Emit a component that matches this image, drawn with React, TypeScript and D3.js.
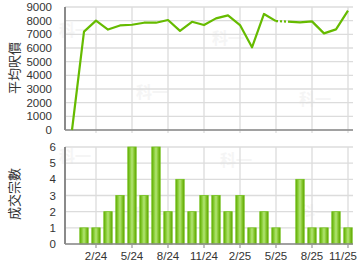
import React from "react";
import * as d3 from "d3";

const months = ["12/23","1/24","2/24","3/24","4/24","5/24","6/24","7/24","8/24","9/24","10/24","11/24","12/24","1/25","2/25","3/25","4/25","5/25","6/25","7/25","8/25","9/25","10/25","11/25"];
const avgPrice: (number | null)[] = [0,7200,8000,7350,7650,7700,7850,7850,8050,7250,7920,7680,8170,8390,7680,6050,8490,7970,7930,7880,7950,7070,7360,8730];
const dealCount = [0,1,1,2,3,6,3,6,2,4,2,3,3,2,3,1,2,1,0,4,1,1,2,1];
const xTickLabels = ["2/24","5/24","8/24","11/24","2/25","5/25","8/25","11/25"];
const priceTicks = [0,1000,2000,3000,4000,5000,6000,7000,8000,9000];
const countTicks = [0,1,2,3,4,5,6];
const dashedFrom = "5/25";
const dashedTo = "6/25";

const W = 360, H = 270;
const left = 65, right = 353;
const font = "'Liberation Sans', Arial, 'DejaVu Sans', sans-serif";
const cjk = "'Noto Sans CJK TC', 'Noto Sans CJK SC', sans-serif";

export default function App() {
  const x = d3.scaleBand<string>().domain(months).range([66, 354]).paddingInner(0.3).paddingOuter(0.15);
  const cx = (m: string) => (x(m) as number) + x.bandwidth() / 2;
  const yP = d3.scaleLinear().domain([0, 9000]).range([130, 7]);
  const yC = d3.scaleLinear().domain([0, 6]).range([244, 147]);

  const pts = months.map((m, i) => ({ m, v: avgPrice[i] }));
  const di = months.indexOf(dashedFrom), dj = months.indexOf(dashedTo);
  const line = d3.line<{ m: string; v: number | null }>().defined(d => d.v != null).x(d => cx(d.m)).y(d => yP(d.v as number));
  const solid1 = pts.slice(0, di + 1);
  const dashed = pts.slice(di, dj + 1);
  const solid2 = pts.slice(dj);

  const gridColor = "#dcdcdc";
  const axisColor = "#8a8a8a";

  const watermarks = [
    [75, 36], [152, 98], [228, 44], [315, 105],
    [75, 162], [236, 166], [150, 220], [315, 218],
  ];

  return (
    <svg width={W} height={H} style={{ position: "absolute", left: 0, top: 0, background: "#fff" }}>
      <defs>
        <linearGradient id="barG" x1="0" x2="1" y1="0" y2="0">
          <stop offset="0%" stopColor="#5da800" />
          <stop offset="30%" stopColor="#8fd23e" />
          <stop offset="50%" stopColor="#b2e475" />
          <stop offset="75%" stopColor="#86c82e" />
          <stop offset="100%" stopColor="#5a9f00" />
        </linearGradient>
      </defs>
      {watermarks.map(([wx, wy], i) => (
        <text key={i} x={wx} y={wy} textAnchor="middle" fontFamily={cjk} fontWeight="bold" fontSize={16} fill="#f5f5f5">科一</text>
      ))}
      {priceTicks.map(t => (
        <line key={"hp" + t} x1={left} x2={right} y1={yP(t)} y2={yP(t)} stroke={gridColor} strokeWidth={1.3} />
      ))}
      {xTickLabels.map(m => (
        <line key={"vp" + m} x1={cx(m)} x2={cx(m)} y1={yP(9000)} y2={yP(0) + 3} stroke={gridColor} strokeWidth={1.3} />
      ))}
      <line x1={left} x2={right} y1={yP(0)} y2={yP(0)} stroke={axisColor} strokeWidth={1.5} />
      <line x1={left} x2={left} y1={yP(9000)} y2={yP(0)} stroke={axisColor} strokeWidth={2} />
      {priceTicks.map(t => (
        <text key={"lp" + t} x={52} y={yP(t) + 4} textAnchor="end" fontFamily={font} fontSize={11.5} fill="#333">{t}</text>
      ))}
      <path d={line(solid1) || ""} fill="none" stroke="#66bb00" strokeWidth={2.2} strokeLinejoin="round" />
      <path d={line(dashed) || ""} fill="none" stroke="#66bb00" strokeWidth={2.2} strokeDasharray="2,2" />
      <path d={line(solid2) || ""} fill="none" stroke="#66bb00" strokeWidth={2.2} strokeLinejoin="round" />
      <text transform={`translate(19,68) rotate(-90)`} textAnchor="middle" fontFamily={cjk} fontSize={13} fill="#333">平均呎價</text>

      {countTicks.map(t => (
        <line key={"hc" + t} x1={left} x2={right} y1={yC(t)} y2={yC(t)} stroke={gridColor} strokeWidth={1.3} />
      ))}
      {xTickLabels.map(m => (
        <line key={"vc" + m} x1={cx(m)} x2={cx(m)} y1={yC(6)} y2={yC(0) + 4} stroke={gridColor} strokeWidth={1.3} />
      ))}
      {months.map((m, i) => dealCount[i] > 0 ? (
        <rect key={"b" + m} x={x(m) as number} y={yC(dealCount[i])} width={x.bandwidth()} height={yC(0) - yC(dealCount[i])}
          fill="url(#barG)" stroke="#74c21c" strokeWidth={0.8} />
      ) : null)}
      <line x1={left} x2={right} y1={yC(0)} y2={yC(0)} stroke={axisColor} strokeWidth={1.5} />
      <line x1={left} x2={left} y1={yC(6)} y2={yC(0)} stroke={axisColor} strokeWidth={2} />
      {xTickLabels.map(m => (
        <line key={"tc" + m} x1={cx(m)} x2={cx(m)} y1={yC(0)} y2={yC(0) + 4} stroke="#999" strokeWidth={1} />
      ))}
      {countTicks.map(t => (
        <text key={"lc" + t} x={56} y={yC(t) + 4} textAnchor="end" fontFamily={font} fontSize={11.5} fill="#333">{t}</text>
      ))}
      {xTickLabels.map((m, i) => {
        const last = i === xTickLabels.length - 1;
        return (
          <text key={"lx" + m} x={last ? 357 : cx(m)} y={260} textAnchor={last ? "end" : "middle"} fontFamily={font} fontSize={11.5} fill="#333">{m}</text>
        );
      })}
      <text transform={`translate(19,194) rotate(-90)`} textAnchor="middle" fontFamily={cjk} fontSize={13} fill="#333">成交宗數</text>
    </svg>
  );
}
